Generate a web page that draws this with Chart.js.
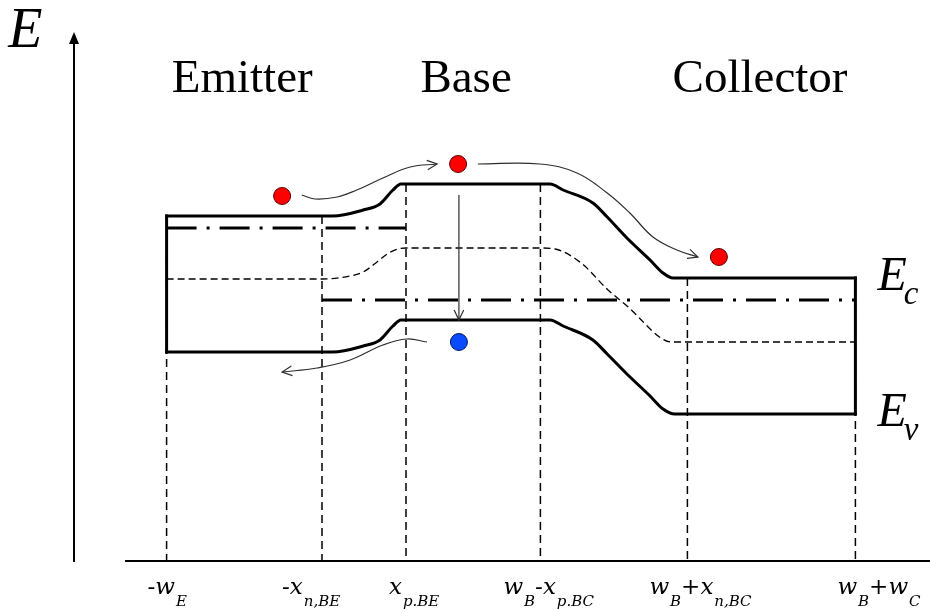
<!DOCTYPE html>
<html>
<head>
<meta charset="utf-8">
<title>Bipolar transistor band diagram</title>
<script src="https://cdn.jsdelivr.net/npm/chart.js@4/dist/chart.umd.min.js"></script>
<style>
  html, body { margin: 0; padding: 0; background: #fff; }
  #wrap { width: 930px; height: 610px; }
</style>
</head>
<body>
<div id="wrap"><canvas id="c" width="930" height="610"></canvas></div>
<script>
// ---- Device geometry (position in arbitrary length units, BE junction at 0) ----
const boundaries = [-4.7, -1.0, 1.0, 4.2, 7.7, 11.7];
const boundaryLabels = ['-w_{E}', '-x_{n,BE}', 'x_{p.BE}', 'w_{B}-x_{p.BC}', 'w_{B}+x_{n,BC}', 'w_{B}+w_{C}'];
const regionNames = ['Emitter', 'Base', 'Collector'];
const regionCenters = [-2.9, 2.43, 9.43];

// ---- Energy levels [position, energy] ----
const conductionBand = [[-4.7, 3.45], [-0.74, 3.45], [-0.02, 3.51], [0.38, 3.57], [0.69, 3.71], [0.88, 3.77],
  [4.43, 3.77], [4.74, 3.71], [5.45, 3.58], [5.79, 3.44], [6.26, 3.23], [6.81, 3.01], [7.12, 2.88], [7.36, 2.83], [11.7, 2.83]];
const valenceBand = [[-4.7, 2.09], [-0.74, 2.09], [-0.02, 2.15], [0.38, 2.21], [0.69, 2.35], [0.88, 2.41],
  [4.43, 2.41], [4.74, 2.35], [5.45, 2.21], [5.79, 2.07], [6.26, 1.87], [6.81, 1.65], [7.12, 1.52], [7.4, 1.47], [11.7, 1.47]];
const intrinsicLevel = [[-4.7, 2.82], [-1.0, 2.82], [-0.33, 2.85], [-0.02, 2.89], [0.31, 2.99], [0.55, 3.07], [0.81, 3.12], [1.0, 3.13],
  [4.2, 3.13], [4.55, 3.12], [5.17, 2.98], [5.81, 2.71], [6.29, 2.54], [7.07, 2.23], [7.31, 2.19], [11.7, 2.19]];
const emitterFermi = [[-4.7, 3.33], [1.0, 3.33]];
const baseCollectorFermi = [[-1.0, 2.61], [11.7, 2.61]];

// ---- Carriers and their paths ----
const electrons = [[-1.95, 3.65], [2.24, 3.97], [8.45, 3.04]];
const holes = [[2.26, 2.19]];
const injectionPath = [[-1.48, 3.66], [-1.17, 3.62], [-0.64, 3.64], [-0.17, 3.71], [0.45, 3.83], [1.10, 3.94], [1.74, 3.97]];
const collectionPath = [[2.71, 3.97], [4.19, 3.97], [5.07, 3.88], [5.79, 3.68], [6.33, 3.48], [6.88, 3.24], [7.45, 3.11], [7.95, 3.04]];
const recombinationPath = [[2.26, 3.66], [2.26, 2.41]];
const holeBackPath = [[1.50, 2.19], [1.02, 2.22], [0.45, 2.16], [-0.33, 2.01], [-1.12, 1.93], [-1.95, 1.89]];

const toXY = arr => arr.map(([x, y]) => ({ x, y }));

// energy of a level at position x (linear between listed points)
function levelAt(level, x) {
  for (let i = 0; i < level.length - 1; i++) {
    const [x0, y0] = level[i], [x1, y1] = level[i + 1];
    if (x >= x0 && x <= x1) return x1 === x0 ? y0 : y0 + (y1 - y0) * (x - x0) / (x1 - x0);
  }
  return level[level.length - 1][1];
}

const INK = '#000';
const ARROW = '#2e2e2e';

const lineBase = { pointRadius: 0, fill: false, borderColor: INK };

const datasets = [
  // carriers (drawn on top)
  { label: 'electrons', data: toXY(electrons), showLine: false, pointRadius: 8.5, pointHoverRadius: 8.5,
    pointBackgroundColor: '#ff0000', pointBorderColor: '#5a0000', pointBorderWidth: 1 },
  { label: 'holes', data: toXY(holes), showLine: false, pointRadius: 8.5, pointHoverRadius: 8.5,
    pointBackgroundColor: '#0a4bff', pointBorderColor: '#001a66', pointBorderWidth: 1 },
  // carrier paths
  { ...lineBase, label: 'injection', data: toXY(injectionPath), borderColor: ARROW, borderWidth: 1.2, tension: 0.4, arrow: true },
  { ...lineBase, label: 'collection', data: toXY(collectionPath), borderColor: ARROW, borderWidth: 1.2, tension: 0.4, arrow: true },
  { ...lineBase, label: 'recombination', data: toXY(recombinationPath), borderColor: ARROW, borderWidth: 1.2, arrow: true },
  { ...lineBase, label: 'hole back-injection', data: toXY(holeBackPath), borderColor: ARROW, borderWidth: 1.2, tension: 0.4, arrow: true },
  // band edges
  { ...lineBase, label: 'Ec', data: toXY(conductionBand), borderWidth: 3, cubicInterpolationMode: 'monotone', borderCapStyle: 'square', borderJoinStyle: 'miter' },
  { ...lineBase, label: 'Ev', data: toXY(valenceBand), borderWidth: 3, cubicInterpolationMode: 'monotone', borderCapStyle: 'square', borderJoinStyle: 'miter' },
  { ...lineBase, label: 'emitter contact', data: toXY([[boundaries[0], levelAt(conductionBand, boundaries[0])], [boundaries[0], levelAt(valenceBand, boundaries[0])]]), borderWidth: 3, borderCapStyle: 'square' },
  { ...lineBase, label: 'collector contact', data: toXY([[boundaries[5], levelAt(conductionBand, boundaries[5])], [boundaries[5], levelAt(valenceBand, boundaries[5])]]), borderWidth: 3, borderCapStyle: 'square' },
  // Fermi levels
  { ...lineBase, label: 'EF emitter', data: toXY(emitterFermi), borderWidth: 3, borderDash: [30, 10, 3, 10] },
  { ...lineBase, label: 'EF base/collector', data: toXY(baseCollectorFermi), borderWidth: 3, borderDash: [30, 10, 3, 10] },
  // intrinsic level
  { ...lineBase, label: 'Ei', data: toXY(intrinsicLevel), borderWidth: 1.3, borderDash: [7, 4], cubicInterpolationMode: 'monotone' },
];

// region boundary guide lines
boundaries.forEach((b, i) => {
  datasets.push({ ...lineBase, label: 'boundary ' + i, data: toXY([[b, levelAt(conductionBand, b)], [b, 0]]),
    borderWidth: 1.5, borderDash: [8, 5] });
});

// split "a_{b}c" into normal / subscript runs
function parseRuns(s) {
  const runs = [];
  const re = /_\{([^}]*)\}/g;
  let last = 0, m;
  while ((m = re.exec(s))) {
    if (m.index > last) runs.push({ t: s.slice(last, m.index), sub: false });
    runs.push({ t: m[1], sub: true });
    last = re.lastIndex;
  }
  if (last < s.length) runs.push({ t: s.slice(last), sub: false });
  return runs;
}

function drawRuns(ctx, runs, x, y, mainFont, subFont, subDrop) {
  let cx = x;
  runs.forEach(r => {
    ctx.font = r.sub ? subFont : mainFont;
    ctx.fillText(r.t, cx, r.sub ? y + subDrop : y);
    cx += ctx.measureText(r.t).width + (r.sub ? 0 : 1);
  });
}

const decor = {
  id: 'bandDecor',
  afterDatasetsDraw(chart) {
    const ctx = chart.ctx;
    chart.data.datasets.forEach((ds, i) => {
      if (!ds.arrow) return;
      const pts = chart.getDatasetMeta(i).data;
      const tip = pts[pts.length - 1];
      let fx = tip.cp1x, fy = tip.cp1y;
      if (fx === undefined || (Math.abs(fx - tip.x) < 0.5 && Math.abs(fy - tip.y) < 0.5)) {
        fx = pts[pts.length - 2].x; fy = pts[pts.length - 2].y;
      }
      const a = Math.atan2(tip.y - fy, tip.x - fx);
      const L = 11, s = 0.45;
      ctx.save();
      ctx.strokeStyle = ds.borderColor;
      ctx.lineWidth = 1.2;
      ctx.beginPath();
      ctx.moveTo(tip.x - L * Math.cos(a - s), tip.y - L * Math.sin(a - s));
      ctx.lineTo(tip.x, tip.y);
      ctx.lineTo(tip.x - L * Math.cos(a + s), tip.y - L * Math.sin(a + s));
      ctx.stroke();
      ctx.restore();
    });
  },
  afterDraw(chart, args, o) {
    const { ctx, scales: { x, y } } = chart;
    ctx.save();
    ctx.strokeStyle = INK;
    ctx.fillStyle = INK;

    // energy axis with arrow
    const ax = Math.round(x.getPixelForValue(o.energyAxisX));
    const y0 = Math.round(y.getPixelForValue(0));
    const yTip = y.getPixelForValue(o.energyAxisTop);
    ctx.lineWidth = 2;
    ctx.beginPath();
    ctx.moveTo(ax, y0 + 1);
    ctx.lineTo(ax, yTip + 10);
    ctx.stroke();
    ctx.beginPath();
    ctx.moveTo(ax, yTip);
    ctx.lineTo(ax - 5, yTip + 12);
    ctx.lineTo(ax + 5, yTip + 12);
    ctx.closePath();
    ctx.fill();

    // position axis
    ctx.beginPath();
    ctx.moveTo(x.getPixelForValue(o.positionAxisStart), y0);
    ctx.lineTo(chart.width, y0);
    ctx.stroke();

    // axis name
    ctx.textBaseline = 'alphabetic';
    ctx.textAlign = 'left';
    ctx.font = 'italic 56px "Liberation Serif", serif';
    ctx.fillText('E', x.getPixelForValue(o.energyLabel[0]), y.getPixelForValue(o.energyLabel[1]));

    // region titles
    ctx.textAlign = 'center';
    ctx.font = '47px "Liberation Serif", serif';
    regionNames.forEach((n, i) => ctx.fillText(n, x.getPixelForValue(regionCenters[i]), y.getPixelForValue(o.titleBaseline)));

    // boundary labels
    ctx.textAlign = 'left';
    const lb = y.getPixelForValue(o.tickBaseline);
    boundaries.forEach((b, i) => {
      drawRuns(ctx, parseRuns(boundaryLabels[i]), x.getPixelForValue(b) + o.tickShift[i], lb,
        'italic 23px "DejaVu Serif", serif', 'italic 15px "DejaVu Serif", serif', 12);
    });

    // band labels at the collector end
    const bandLabels = [['E', 'c', conductionBand], ['E', 'v', valenceBand]];
    bandLabels.forEach(([m, s, lvl]) => {
      const [ex, ey] = lvl[lvl.length - 1];
      const px = x.getPixelForValue(ex) + 22;
      const py = y.getPixelForValue(ey) + 12;
      ctx.font = 'italic 48px "Liberation Serif", serif';
      ctx.fillText(m, px, py);
      const w = ctx.measureText(m).width;
      ctx.font = 'italic 33px "Liberation Serif", serif';
      ctx.fillText(s, px + w - 3, py + 14);
    });
    ctx.restore();
  }
};

new Chart(document.getElementById('c'), {
  type: 'line',
  data: { datasets },
  options: {
    responsive: false,
    devicePixelRatio: 1,
    animation: false,
    events: [],
    layout: { padding: 0, autoPadding: false },
    scales: {
      x: { type: 'linear', min: -364 / 42, max: 566 / 42, display: false },
      y: { type: 'linear', min: -0.49, max: 5.61, display: false }
    },
    plugins: {
      legend: { display: false },
      tooltip: { enabled: false },
      bandDecor: {
        energyAxisX: -6.9,
        energyAxisTop: 5.29,
        positionAxisStart: -5.69,
        energyLabel: [-8.47, 5.14],
        titleBaseline: 4.69,
        tickBaseline: -0.33,
        tickShift: [-19, -40, -17, -37, -38, -18]
      }
    }
  },
  plugins: [decor]
});
</script>
</body>
</html>
